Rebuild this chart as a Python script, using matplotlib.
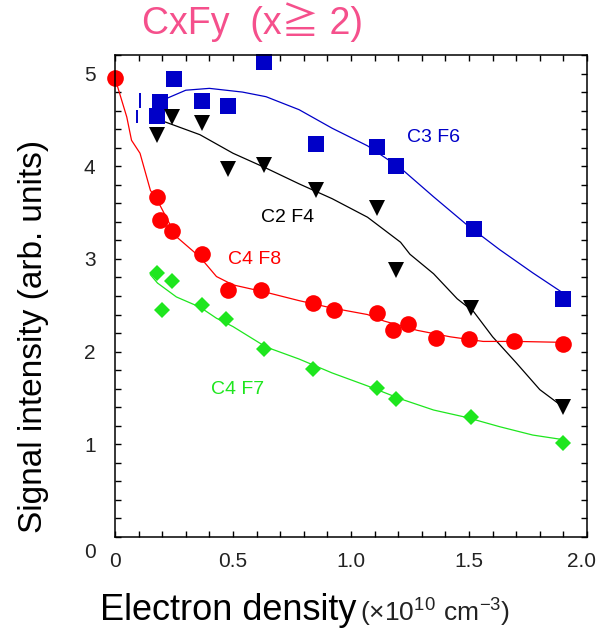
import matplotlib
matplotlib.use("Agg")
import matplotlib.pyplot as plt
from matplotlib.ticker import MultipleLocator
from matplotlib.transforms import ScaledTranslation


# measured points (x in 1e10 cm^-3, y in arb. units)
c3f6_x = [0.18, 0.19, 0.25, 0.37, 0.48, 0.63, 0.85, 1.11, 1.19, 1.52, 1.90]
c3f6_y = [4.54, 4.69, 4.94, 4.70, 4.65, 5.12, 4.24, 4.21, 4.00, 3.32, 2.57]

c2f4_x = [0.18, 0.24, 0.37, 0.48, 0.63, 0.85, 1.11, 1.19, 1.51, 1.90]
c2f4_y = [4.34, 4.53, 4.47, 3.97, 4.01, 3.74, 3.55, 2.88, 2.47, 1.40]

c4f8_x = [0.0, 0.18, 0.19, 0.24, 0.37, 0.48, 0.62, 0.84, 0.93, 1.11, 1.18,
          1.24, 1.36, 1.50, 1.69, 1.90]
c4f8_y = [4.95, 3.67, 3.42, 3.30, 3.05, 2.66, 2.66, 2.52, 2.45, 2.42, 2.23,
          2.30, 2.15, 2.14, 2.11, 2.08]

c4f7_x = [0.18, 0.20, 0.24, 0.37, 0.47, 0.63, 0.84, 1.11, 1.19, 1.51, 1.90]
c4f7_y = [2.85, 2.45, 2.76, 2.50, 2.35, 2.03, 1.81, 1.61, 1.49, 1.29, 1.01]

# guide curves
c3f6_fit_x = [0.19, 0.30, 0.40, 0.54, 0.64, 0.78, 0.92, 1.07, 1.21, 1.35,
              1.49, 1.63, 1.77, 1.90]
c3f6_fit_y = [4.70, 4.82, 4.84, 4.80, 4.75, 4.61, 4.41, 4.22, 3.98, 3.67,
              3.37, 3.10, 2.85, 2.63]

c2f4_fit_x = [0.21, 0.36, 0.50, 0.64, 0.78, 0.92, 1.07, 1.21, 1.25, 1.35,
              1.45, 1.52, 1.60, 1.70, 1.80, 1.90]
c2f4_fit_y = [4.48, 4.34, 4.14, 3.98, 3.81, 3.65, 3.45, 3.18, 3.05, 2.84,
              2.57, 2.43, 2.16, 1.88, 1.59, 1.40]

c4f8_fit_x = [0.0, 0.05, 0.07, 0.106, 0.15, 0.18, 0.26, 0.36, 0.43, 0.50,
              0.64, 0.78, 0.92, 1.07, 1.14, 1.21, 1.28, 1.42, 1.56, 1.70, 1.90]
c4f8_fit_y = [4.95, 4.53, 4.28, 4.14, 3.74, 3.63, 3.24, 3.02, 2.81, 2.72,
              2.64, 2.55, 2.47, 2.40, 2.33, 2.28, 2.23, 2.16, 2.11, 2.11, 2.10]

c4f7_fit_x = [0.15, 0.18, 0.26, 0.36, 0.43, 0.50, 0.64, 0.78, 0.92, 1.07,
              1.21, 1.35, 1.49, 1.63, 1.77, 1.90]
c4f7_fit_y = [2.83, 2.74, 2.59, 2.48, 2.36, 2.27, 2.05, 1.92, 1.77, 1.63,
              1.49, 1.37, 1.29, 1.19, 1.10, 1.05]

# stray blue bars near the start of the C3F6 series
bar_x = [0.093, 0.106]
bar_lo = [4.47, 4.63]
bar_hi = [4.61, 4.79]

BLUE = "#0000c8"
RED = "#ff0000"
GREEN = "#1ee61e"
BLACK = "#000000"
PINK = "#f5508c"

plt.rcParams["mathtext.fontset"] = "custom"
plt.rcParams["mathtext.rm"] = "Liberation Sans"

fig = plt.figure(figsize=(5.98, 6.35), dpi=100)
ax = fig.add_axes([0.1923, 0.1543, 0.7893, 0.7591])

ax.plot(c3f6_fit_x, c3f6_fit_y, color=BLUE, lw=0.9)
ax.plot(c2f4_fit_x, c2f4_fit_y, color=BLACK, lw=0.9)
ax.plot(c4f8_fit_x, c4f8_fit_y, color=RED, lw=0.9)
ax.plot(c4f7_fit_x, c4f7_fit_y, color=GREEN, lw=0.9)
ax.vlines(bar_x, bar_lo, bar_hi, color=BLUE, lw=1.4)

ax.plot(c3f6_x, c3f6_y, "s", color=BLUE, ms=12, mew=0, clip_on=False)
ax.plot(c2f4_x, c2f4_y, "v", color=BLACK, ms=11, mew=0, clip_on=False)
ax.plot(c4f8_x, c4f8_y, "o", color=RED, ms=12, mew=0, clip_on=False)
ax.plot(c4f7_x, c4f7_y, "D", color=GREEN, ms=8, mew=0, clip_on=False)

lab_font = {"family": "Liberation Sans", "size": 14}
ax.text(1.35, 4.31, "C3 F6", color=BLUE, ha="center", va="center", **lab_font)
ax.text(0.73, 3.45, "C2 F4", color=BLACK, ha="center", va="center", **lab_font)
ax.text(0.59, 2.99, "C4 F8", color=RED, ha="center", va="center", **lab_font)
ax.text(0.52, 1.59, "C4 F7", color=GREEN, ha="center", va="center", **lab_font)

ax.set_xlim(0, 2.0)
ax.set_ylim(0, 5.2)
ax.set_xticks([0, 0.5, 1.0, 1.5, 2.0])
ax.set_xticklabels(["0", "0.5", "1.0", "1.5", "2.0"])
ax.set_yticks([0, 1, 2, 3, 4, 5])
ax.xaxis.set_minor_locator(MultipleLocator(0.1))
ax.yaxis.set_minor_locator(MultipleLocator(0.2))
for side in ax.spines.values():
    side.set_linewidth(1.1)
ax.tick_params(which="both", direction="in", length=4, width=1,
               top=True, right=True)
ax.tick_params(axis="x", pad=11)
ax.tick_params(axis="y", pad=14)
for lbl in ax.get_xticklabels() + ax.get_yticklabels():
    lbl.set_fontfamily("Liberation Sans")
    lbl.set_fontsize(15)
    lbl.set_color("#222222")

# the "0" on the y axis sits below the corner, "2.0" hugs the right edge
zero = ax.yaxis.get_major_ticks()[0].label1
zero.set_transform(zero.get_transform() +
                   ScaledTranslation(0, -10 / 72, fig.dpi_scale_trans))
last = ax.xaxis.get_major_ticks()[-1].label1
last.set_transform(last.get_transform() +
                   ScaledTranslation(-4 / 72, 0, fig.dpi_scale_trans))

fig.text(252 / 598, 1 - 22 / 635, "CxFy  (x\u2267 2)", color=PINK,
         ha="center", va="center", fontsize=27,
         family=["Liberation Sans", "Noto Sans CJK JP"])

fig.text(34 / 598, 1 - 336 / 635, "Signal intensity (arb. units)",
         rotation=90, ha="center", va="center", fontsize=24,
         family="Liberation Sans")

fig.text(100 / 598, 1 - 610 / 635, "Electron density", ha="left",
         va="center", fontsize=26, family="Liberation Sans")
fig.text(360 / 598, 1 - 612 / 635, r"$(\times10^{10}\ \mathrm{cm}^{-3})$",
         ha="left", va="center", fontsize=19, color="#222222")

fig.savefig("out.png", dpi=100)
